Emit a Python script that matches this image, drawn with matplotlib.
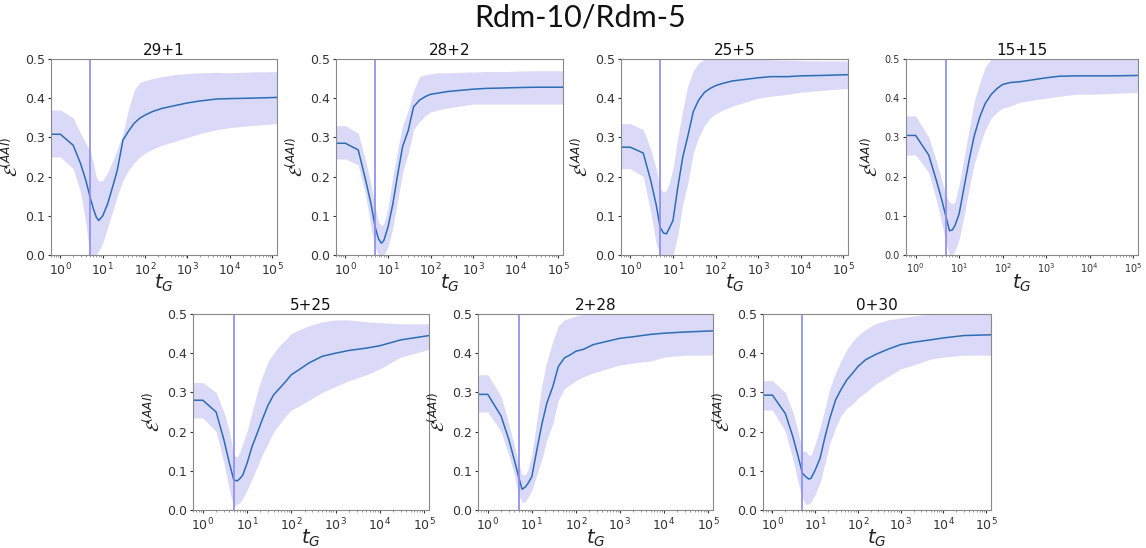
import numpy as np
import matplotlib
matplotlib.use("Agg")
import matplotlib.pyplot as plt

# generation grid (log spaced by eye)
t_g = [0.1, 1, 2, 3, 4, 5, 6, 7, 8, 10, 13, 17, 22, 30, 40, 55, 75, 100,
       150, 250, 500, 1000, 2000, 5000, 10000, 30000, 130000]

titles = ["29+1", "28+2", "25+5", "15+15", "5+25", "2+28", "0+30"]

mean_29_1 = [0.308, 0.308, 0.28, 0.233, 0.19, 0.148, 0.118, 0.097, 0.088, 0.10, 0.13, 0.173, 0.216,
             0.293, 0.315, 0.336, 0.349, 0.357, 0.366, 0.374, 0.381, 0.388, 0.393, 0.398, 0.399, 0.400, 0.402]
hi_29_1 = [0.37, 0.37, 0.35, 0.31, 0.285, 0.265, 0.235, 0.2, 0.188, 0.19, 0.21, 0.24, 0.27,
           0.31, 0.37, 0.42, 0.44, 0.445, 0.45, 0.455, 0.46, 0.463, 0.465, 0.466, 0.465, 0.467, 0.468]
lo_29_1 = [0.25, 0.25, 0.22, 0.16, 0.08, 0.0, 0.0, 0.0, 0.01, 0.03, 0.07, 0.11, 0.15,
           0.19, 0.215, 0.235, 0.25, 0.26, 0.27, 0.28, 0.29, 0.30, 0.31, 0.32, 0.325, 0.33, 0.335]

mean_28_2 = [0.285, 0.285, 0.268, 0.19, 0.13, 0.071, 0.041, 0.03, 0.037, 0.071, 0.13, 0.207, 0.276,
             0.318, 0.378, 0.395, 0.404, 0.41, 0.413, 0.417, 0.42, 0.423, 0.425, 0.426, 0.427, 0.428, 0.428]
hi_28_2 = [0.33, 0.33, 0.31, 0.24, 0.18, 0.12, 0.085, 0.075, 0.08, 0.12, 0.2, 0.27, 0.33,
           0.37, 0.42, 0.455, 0.46, 0.462, 0.465, 0.465, 0.466, 0.467, 0.468, 0.468, 0.469, 0.47, 0.47]
lo_28_2 = [0.245, 0.245, 0.23, 0.15, 0.07, 0.02, 0.0, 0.0, 0.0, 0.02, 0.07, 0.14, 0.21,
           0.26, 0.32, 0.34, 0.355, 0.365, 0.37, 0.375, 0.38, 0.385, 0.385, 0.385, 0.385, 0.385, 0.385]

mean_25_5 = [0.275, 0.275, 0.26, 0.19, 0.13, 0.07, 0.056, 0.054, 0.066, 0.088, 0.173, 0.25, 0.30,
             0.366, 0.395, 0.415, 0.425, 0.432, 0.438, 0.444, 0.448, 0.452, 0.455, 0.455, 0.457, 0.458, 0.46]
hi_25_5 = [0.335, 0.335, 0.32, 0.27, 0.22, 0.17, 0.16, 0.165, 0.18, 0.22, 0.3, 0.37, 0.43,
           0.47, 0.49, 0.5, 0.5, 0.5, 0.5, 0.5, 0.5, 0.5, 0.498, 0.497, 0.496, 0.495, 0.495]
lo_25_5 = [0.22, 0.22, 0.2, 0.11, 0.03, 0.0, 0.0, 0.0, 0.0, 0.0, 0.05, 0.13, 0.18,
           0.26, 0.30, 0.33, 0.35, 0.36, 0.37, 0.38, 0.39, 0.40, 0.405, 0.41, 0.415, 0.42, 0.425]

mean_15_15 = [0.305, 0.305, 0.255, 0.19, 0.14, 0.097, 0.062, 0.064, 0.075, 0.105, 0.173, 0.242, 0.302,
              0.353, 0.387, 0.41, 0.425, 0.435, 0.44, 0.442, 0.447, 0.452, 0.456, 0.457, 0.457, 0.457, 0.458]
hi_15_15 = [0.355, 0.355, 0.3, 0.24, 0.19, 0.15, 0.135, 0.13, 0.135, 0.18, 0.25, 0.32, 0.39,
            0.44, 0.48, 0.5, 0.5, 0.5, 0.5, 0.5, 0.5, 0.5, 0.5, 0.5, 0.5, 0.5, 0.5]
lo_15_15 = [0.255, 0.255, 0.21, 0.14, 0.08, 0.03, 0.0, 0.0, 0.01, 0.04, 0.1, 0.17, 0.23,
            0.28, 0.32, 0.35, 0.365, 0.375, 0.38, 0.39, 0.395, 0.40, 0.405, 0.41, 0.41, 0.412, 0.415]

mean_5_25 = [0.28, 0.28, 0.25, 0.179, 0.119, 0.077, 0.074, 0.081, 0.089, 0.119, 0.162, 0.196, 0.23,
             0.268, 0.294, 0.311, 0.328, 0.345, 0.358, 0.375, 0.392, 0.40, 0.407, 0.413, 0.419, 0.434, 0.445]
hi_5_25 = [0.325, 0.325, 0.3, 0.25, 0.2, 0.14, 0.135, 0.15, 0.17, 0.2, 0.25, 0.3, 0.34,
           0.38, 0.40, 0.42, 0.435, 0.45, 0.46, 0.47, 0.48, 0.485, 0.485, 0.48, 0.478, 0.475, 0.475]
lo_5_25 = [0.235, 0.235, 0.2, 0.12, 0.05, 0.01, 0.015, 0.02, 0.03, 0.05, 0.08, 0.11, 0.14,
           0.17, 0.2, 0.22, 0.24, 0.255, 0.265, 0.28, 0.30, 0.315, 0.33, 0.345, 0.36, 0.39, 0.41]

mean_2_28 = [0.295, 0.295, 0.24, 0.18, 0.128, 0.085, 0.053, 0.058, 0.066, 0.085, 0.153, 0.22, 0.273,
             0.315, 0.366, 0.388, 0.396, 0.405, 0.41, 0.422, 0.43, 0.438, 0.442, 0.448, 0.451, 0.454, 0.457]
hi_2_28 = [0.345, 0.345, 0.29, 0.22, 0.165, 0.12, 0.09, 0.09, 0.1, 0.14, 0.23, 0.32, 0.38,
           0.43, 0.47, 0.485, 0.49, 0.495, 0.5, 0.5, 0.5, 0.5, 0.5, 0.5, 0.5, 0.5, 0.5]
lo_2_28 = [0.25, 0.25, 0.2, 0.14, 0.09, 0.04, 0.02, 0.02, 0.03, 0.05, 0.09, 0.13, 0.18,
           0.22, 0.28, 0.31, 0.32, 0.33, 0.34, 0.35, 0.36, 0.37, 0.375, 0.38, 0.39, 0.395, 0.395]

mean_0_30 = [0.293, 0.293, 0.246, 0.187, 0.136, 0.094, 0.085, 0.079, 0.081, 0.102, 0.132, 0.187, 0.234,
             0.281, 0.307, 0.332, 0.349, 0.366, 0.383, 0.396, 0.41, 0.422, 0.428, 0.434, 0.439, 0.445, 0.447]
hi_0_30 = [0.33, 0.33, 0.3, 0.25, 0.2, 0.15, 0.15, 0.14, 0.14, 0.17, 0.21, 0.26, 0.31,
           0.35, 0.38, 0.41, 0.43, 0.445, 0.46, 0.475, 0.485, 0.49, 0.495, 0.5, 0.5, 0.5, 0.5]
lo_0_30 = [0.255, 0.255, 0.2, 0.13, 0.07, 0.03, 0.015, 0.015, 0.02, 0.04, 0.07, 0.12, 0.17,
           0.21, 0.24, 0.26, 0.27, 0.285, 0.30, 0.32, 0.34, 0.36, 0.37, 0.385, 0.39, 0.395, 0.395]

means = [mean_29_1, mean_28_2, mean_25_5, mean_15_15, mean_5_25, mean_2_28, mean_0_30]
highs = [hi_29_1, hi_28_2, hi_25_5, hi_15_15, hi_5_25, hi_2_28, hi_0_30]
lows = [lo_29_1, lo_28_2, lo_25_5, lo_15_15, lo_5_25, lo_2_28, lo_0_30]

t_switch = 5

W, H = 1146, 548
# axes boxes in pixels: left, top, right, bottom
boxes = [(51, 59, 277, 255), (336, 59, 563, 255), (621, 59, 848, 255), (906, 59, 1138, 255),
         (193, 314, 429, 510), (478, 314, 713, 510), (763, 314, 991, 510)]
tick_sizes = [9, 9, 9, 7, 9, 9, 9]

fig = plt.figure(figsize=(W / 100, H / 100), dpi=100)
fig.text(0.506, 0.968, "Rdm-10/Rdm-5", ha="center", va="center",
         fontsize=22, family="Lato", color="#111111")

for i, (l, t, r, b) in enumerate(boxes):
    ax = fig.add_axes([l / W, 1 - b / H, (r - l) / W, (b - t) / H])
    ax.fill_between(t_g, lows[i], highs[i], color="#dadaf8", lw=0)
    ax.plot(t_g, means[i], color="#2c6db5", lw=1.1)
    ax.axvline(t_switch, color="#8a8aee", lw=1.2)
    ax.set_xscale("log")
    ax.set_xlim(0.6, 1.3e5)
    ax.set_ylim(0, 0.5)
    ax.set_yticks([0.0, 0.1, 0.2, 0.3, 0.4, 0.5])
    ax.set_xticks([1, 10, 100, 1000, 10000, 100000])
    ax.tick_params(labelsize=tick_sizes[i], colors="#333333", length=2.5, pad=2)
    ax.tick_params(which="minor", colors="#888888", length=1.5)
    for s in ax.spines.values():
        s.set_color("#888888")
    ax.set_title(titles[i], fontsize=11, pad=3, color="#111111")
    ax.set_xlabel(r"$t_G$", fontsize=14, color="#222222")
    ax.xaxis.set_label_coords(0.5, -0.088)
    ax.set_ylabel(r"$\mathcal{E}^{(AAI)}$", fontsize=12.5, labelpad=2, color="#222222")

fig.savefig("out.png", dpi=100)
